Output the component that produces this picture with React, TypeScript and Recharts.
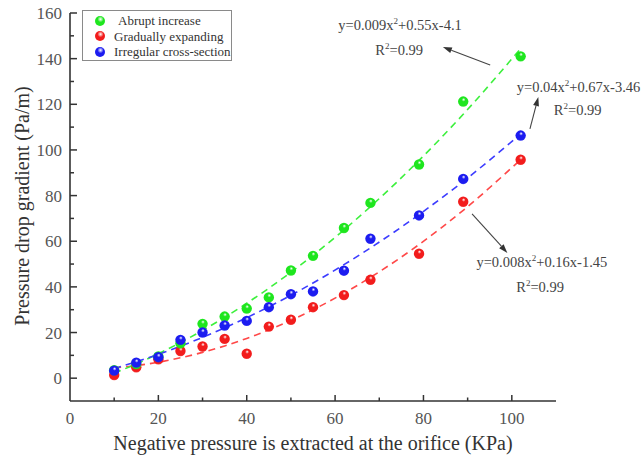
import React from 'react';
import {
  ComposedChart,
  Scatter,
  Line,
  XAxis,
  YAxis,
  ReferenceDot,
  ReferenceLine,
  Legend,
} from 'recharts';

// ---------------- data ----------------
const pressure = [10, 15, 20, 25, 30, 35, 40, 45, 50, 55, 62, 68, 79, 89, 102];
const abruptIncrease = [3.5, 6.2, 9.5, 15.3, 23.8, 27.0, 30.5, 35.4, 47.2, 53.6, 65.8, 76.8, 93.6, 121.2, 141.0];
const graduallyExpanding = [1.4, 4.8, 8.3, 11.9, 13.9, 17.2, 10.7, 22.6, 25.6, 31.1, 36.4, 43.1, 54.5, 77.3, 95.7];
const irregularSection = [3.3, 6.8, 9.2, 16.8, 20.0, 23.1, 25.1, 31.1, 36.8, 38.0, 47.1, 61.1, 71.3, 87.3, 106.3];

const seriesNames = ['Abrupt increase', 'Gradually expanding', 'Irregular cross-section'];
const seriesColors = ['#1ee61e', '#f21c1c', '#1c1cf0'];
const fitColors = ['#3cf03c', '#ff4848', '#3c3cff'];

const xTicks = [0, 10, 20, 30, 40, 50, 60, 70, 80, 90, 100, 110];
const yTicks = [0, 10, 20, 30, 40, 50, 60, 70, 80, 90, 100, 110, 120, 130, 140, 150, 160];

const xTitle = 'Negative pressure is extracted at the orifice (KPa)';
const yTitle = 'Pressure drop gradient (Pa/m)';

const fitLabels = [
  { pre: 'y=0.009x', post: '+0.55x-4.1' },
  { pre: 'y=0.008x', post: '+0.16x-1.45' },
  { pre: 'y=0.04x', post: '+0.67x-3.46' },
];
const r2Label = '=0.99';

// annotation anchors (data coords)
const eqPos = [
  { x: 74.7, y: 154.6, rx: 74.5, ry: 143.6 },
  { x: 106.8, y: 50.9, rx: 106.4, ry: 40.0 },
  { x: 115.1, y: 127.6, rx: 114.9, ry: 117.5 },
];
const arrows = [
  [{ x: 95.1, y: 137.2 }, { x: 84.4, y: 145.1 }],
  [{ x: 91.0, y: 72.0 }, { x: 99.0, y: 54.9 }],
  [{ x: 104.1, y: 109.2 }, { x: 106.0, y: 123.2 }],
];

// ---------------- helpers ----------------
function quadFit(xs: number[], ys: number[]) {
  let n = xs.length, s1 = 0, s2 = 0, s3 = 0, s4 = 0, t0 = 0, t1 = 0, t2 = 0;
  for (let i = 0; i < n; i++) {
    const x = xs[i], y = ys[i];
    s1 += x; s2 += x * x; s3 += x * x * x; s4 += x * x * x * x;
    t0 += y; t1 += x * y; t2 += x * x * y;
  }
  const det = (m: number[][]) =>
    m[0][0] * (m[1][1] * m[2][2] - m[1][2] * m[2][1]) -
    m[0][1] * (m[1][0] * m[2][2] - m[1][2] * m[2][0]) +
    m[0][2] * (m[1][0] * m[2][1] - m[1][1] * m[2][0]);
  const A = [[n, s1, s2], [s1, s2, s3], [s2, s3, s4]];
  const B = [t0, t1, t2];
  const D = det(A);
  const coef = [0, 1, 2].map((k) => {
    const M = A.map((row, r) => row.map((v, c) => (c === k ? B[r] : v)));
    return det(M) / D;
  });
  return (x: number) => coef[0] + coef[1] * x + coef[2] * x * x;
}

const rawSeries = [abruptIncrease, graduallyExpanding, irregularSection];
const pointData = rawSeries.map((ys) => pressure.map((x, i) => ({ x, y: ys[i] })));
const fitData = rawSeries.map((ys) => {
  const f = quadFit(pressure, ys);
  return pressure.map((x) => ({ x, y: f(x) }));
});

const FONT = '"Liberation Serif", "Times New Roman", serif';

const makeBall = (idx: number) => (props: any) => {
  const { cx, cy } = props;
  const id = `ball-${idx}`;
  const c = seriesColors[idx];
  return (
    <g>
      <defs>
        <radialGradient id={id} cx="0.5" cy="0.4" r="0.6" fx="0.55" fy="0.3">
          <stop offset="0" stopColor="#ffffff" />
          <stop offset="0.3" stopColor={c} />
          <stop offset="0.85" stopColor={c} />
          <stop offset="1" stopColor={c} stopOpacity={0.85} />
        </radialGradient>
      </defs>
      <circle cx={cx} cy={cy} r={5.2} fill={`url(#${id})`} />
    </g>
  );
};

const XTick = (props: any) => {
  const { x, y, payload } = props;
  const v = payload.value;
  const major = v % 20 === 0;
  return (
    <g>
      {v > 0 && v < 110 && (
        <line x1={x} x2={x} y1={y} y2={y - (major ? 6 : 3.5)} stroke="#333" strokeWidth={1.5} />
      )}
      {major && v <= 100 && (
        <text x={x} y={y + 23} textAnchor="middle" fontFamily={FONT} fontSize={17} fill="#555">
          {v}
        </text>
      )}
    </g>
  );
};

const YTick = (props: any) => {
  const { x, y, payload } = props;
  const v = payload.value;
  const major = v % 20 === 0;
  return (
    <g>
      <line x1={x} x2={x + (major ? 7 : 4)} y1={y} y2={y} stroke="#333" strokeWidth={1.5} />
      {major && (
        <text x={x - 8} y={y + 6} textAnchor="end" fontFamily={FONT} fontSize={17} fill="#555">
          {v}
        </text>
      )}
    </g>
  );
};

const XTitle = (props: any) => {
  const vb = props.viewBox || {};
  const cx = (vb.x ?? 70) + (vb.width ?? 486) / 2;
  const y = (vb.y ?? 401) + 49;
  return (
    <text x={cx} y={y} textAnchor="middle" fontFamily={FONT} fontSize={20} fill="#333">
      {xTitle}
    </text>
  );
};

const YTitle = (props: any) => {
  const vb = props.viewBox || {};
  const cy = (vb.y ?? 13) + (vb.height ?? 388) / 2 - 1;
  const cx = 29;
  return (
    <text
      x={cx}
      y={cy}
      transform={`rotate(-90, ${cx}, ${cy})`}
      textAnchor="middle"
      fontFamily={FONT}
      fontSize={20}
      fill="#333"
    >
      {yTitle}
    </text>
  );
};

const Arrow = (props: any) => {
  const { x1, y1, x2, y2 } = props;
  if ([x1, y1, x2, y2].some((v) => typeof v !== 'number')) return null;
  const ang = Math.atan2(y2 - y1, x2 - x1);
  const L = 9, W = 3;
  const bx = x2 - L * Math.cos(ang), by = y2 - L * Math.sin(ang);
  const px = -Math.sin(ang) * W, py = Math.cos(ang) * W;
  return (
    <g>
      <line x1={x1} y1={y1} x2={bx} y2={by} stroke="#444" strokeWidth={1.1} />
      <polygon points={`${x2},${y2} ${bx + px},${by + py} ${bx - px},${by - py}`} fill="#333" />
    </g>
  );
};

const EqText = (label: { pre: string; post: string }) => (props: any) => {
  const { cx, cy } = props;
  return (
    <text x={cx} y={cy + 5} textAnchor="middle" fontFamily={FONT} fontSize={14.5} fill="#444">
      {label.pre}
      <tspan fontSize={9} dy={-6}>2</tspan>
      <tspan dy={6}>{label.post}</tspan>
    </text>
  );
};

const R2Text = (props: any) => {
  const { cx, cy } = props;
  return (
    <text x={cx} y={cy + 5} textAnchor="middle" fontFamily={FONT} fontSize={14.5} fill="#444">
      R
      <tspan fontSize={9} dy={-6}>2</tspan>
      <tspan dy={6}>{r2Label}</tspan>
    </text>
  );
};

const LegendBox = () => (
  <div
    style={{
      border: '1px solid #8a8a8a',
      width: 150,
      height: 51,
      boxSizing: 'border-box',
      paddingTop: 2,
      fontFamily: FONT,
      fontSize: 13,
      color: '#333',
      background: '#fff',
    }}
  >
    {seriesNames.map((name, i) => (
      <div key={name} style={{ display: 'flex', alignItems: 'center', height: 15.5 }}>
        <span
          style={{
            display: 'inline-block',
            width: 10,
            height: 10,
            borderRadius: '50%',
            marginLeft: 12,
            marginRight: i === 0 ? 13 : 9,
            background: `radial-gradient(circle at 55% 32%, #fff 0%, ${seriesColors[i]} 35%, ${seriesColors[i]} 100%)`,
          }}
        />
        <span style={{ whiteSpace: 'nowrap', lineHeight: '15px' }}>{name}</span>
      </div>
    ))}
  </div>
);

export default function App() {
  const order = [1, 0, 2];
  return (
    <div style={{ position: 'absolute', left: 0, top: 0, width: 641, height: 459, background: '#fff' }}>
      <ComposedChart width={641} height={459} margin={{ top: 13, right: 85, bottom: 0, left: 0 }}>
        <XAxis
          dataKey="x"
          type="number"
          domain={[0, 110]}
          ticks={xTicks}
          interval={0}
          allowDataOverflow
          height={58}
          stroke="#333"
          strokeWidth={1.6}
          tickLine={false}
          tickSize={0}
          tickMargin={0}
          tick={<XTick />}
          label={<XTitle />}
        />
        <YAxis
          dataKey="y"
          type="number"
          domain={[-10, 160]}
          ticks={yTicks}
          interval={0}
          allowDataOverflow
          width={70}
          stroke="#333"
          strokeWidth={1.6}
          tickLine={false}
          tickSize={0}
          tickMargin={0}
          tick={<YTick />}
          label={<YTitle />}
        />
        {order.map((i) => (
          <Line
            key={`fit-${i}`}
            data={fitData[i]}
            dataKey="y"
            type="monotone"
            stroke={fitColors[i]}
            strokeWidth={1.6}
            strokeDasharray="7 5"
            dot={false}
            activeDot={false}
            legendType="none"
            isAnimationActive={false}
          />
        ))}
        {order.map((i) => (
          <Scatter
            key={`pts-${i}`}
            name={seriesNames[i]}
            data={pointData[i]}
            dataKey="y"
            fill={seriesColors[i]}
            shape={makeBall(i)}
            isAnimationActive={false}
          />
        ))}
        {arrows.map((seg, i) => (
          <ReferenceLine key={`arr-${i}`} segment={seg} ifOverflow="visible" shape={<Arrow />} />
        ))}
        {eqPos.map((p, i) => (
          <ReferenceDot key={`eq-${i}`} x={p.x} y={p.y} r={0} ifOverflow="visible" shape={EqText(fitLabels[i])} />
        ))}
        {eqPos.map((p, i) => (
          <ReferenceDot key={`r2-${i}`} x={p.rx} y={p.ry} r={0} ifOverflow="visible" shape={R2Text} />
        ))}
        <Legend
          layout="vertical"
          align="center"
          verticalAlign="middle"
          wrapperStyle={{ left: 82, top: 10, width: 150, height: 51 }}
          content={<LegendBox />}
        />
      </ComposedChart>
    </div>
  );
}
